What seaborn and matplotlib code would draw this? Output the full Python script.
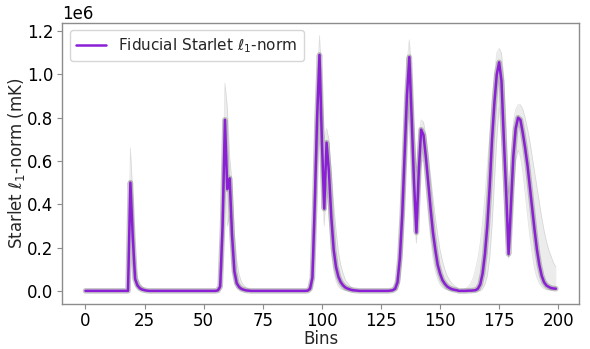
import numpy as np
import pandas as pd
import matplotlib
matplotlib.use("Agg")
import matplotlib.pyplot as plt
import seaborn as sns

# ---------------- data (values in units of 1e6 mK) ----------------
N_BINS = 200
SCALE = 1e6

# fiducial curve and realisation spread, per peak group: start bin + values
g1_start = 17
g1_fid = [0, 0.0, 0.5, 0.25, 0.055, 0.025, 0.012, 0.006, 0.003, 0.001, 0]
g1_up = [0, 0.02, 0.66, 0.45, 0.12, 0.06, 0.035, 0.02, 0.01, 0.005, 0.002]
g1_lo = [0, 0, 0.36, 0.12, 0.03, 0.012, 0.005, 0.002, 0.001, 0, 0]

g2_start = 55
g2_fid = [0, 0.002, 0.02, 0.3, 0.79, 0.47, 0.52, 0.26, 0.09, 0.035, 0.018,
          0.009, 0.005, 0.002, 0.001, 0, 0, 0]
g2_up = [0, 0.01, 0.06, 0.45, 0.96, 0.85, 0.62, 0.5, 0.27, 0.14, 0.075,
         0.042, 0.026, 0.015, 0.008, 0.004, 0.002, 0]
g2_lo = [0, 0, 0.005, 0.12, 0.55, 0.3, 0.35, 0.12, 0.04, 0.015, 0.007,
         0.003, 0.001, 0, 0, 0, 0, 0]

g3_start = 93
g3_fid = [0, 0.001, 0.01, 0.06, 0.4, 0.8, 1.09, 0.7, 0.38, 0.685, 0.55, 0.34,
          0.19, 0.11, 0.065, 0.04, 0.025, 0.015, 0.01, 0.006, 0.003, 0.002,
          0.001, 0]
g3_up = [0.001, 0.005, 0.03, 0.15, 0.55, 0.95, 1.18, 0.95, 0.7, 0.75, 0.7,
         0.55, 0.4, 0.28, 0.18, 0.12, 0.08, 0.05, 0.035, 0.022, 0.014, 0.008,
         0.004, 0.002]
g3_lo = [0, 0, 0, 0.02, 0.2, 0.6, 0.85, 0.5, 0.3, 0.5, 0.35, 0.18, 0.09,
         0.045, 0.02, 0.01, 0.005, 0.002, 0, 0, 0, 0, 0, 0]

g4_start = 128
g4_fid = [0, 0.001, 0.003, 0.01, 0.04, 0.15, 0.35, 0.63, 0.9, 1.08, 0.8, 0.5,
          0.27, 0.55, 0.745, 0.72, 0.62, 0.5, 0.38, 0.27, 0.19, 0.12, 0.08,
          0.05, 0.033, 0.02, 0.013, 0.008, 0.005, 0.003, 0.002, 0.001, 0, 0, 0]
g4_up = [0.002, 0.005, 0.012, 0.03, 0.08, 0.25, 0.5, 0.8, 1.05, 1.16, 1.0,
         0.75, 0.55, 0.72, 0.79, 0.78, 0.72, 0.63, 0.53, 0.43, 0.34, 0.26,
         0.19, 0.14, 0.1, 0.07, 0.05, 0.035, 0.025, 0.017, 0.011, 0.007,
         0.004, 0.002, 0.001]
g4_lo = [0, 0, 0, 0.002, 0.01, 0.05, 0.18, 0.42, 0.72, 0.9, 0.6, 0.35, 0.22,
         0.4, 0.6, 0.6, 0.48, 0.35, 0.24, 0.15, 0.09, 0.055, 0.03, 0.017,
         0.009, 0.005, 0.002, 0, 0, 0, 0, 0, 0, 0, 0]

g5_start = 158
g5_fid = [0, 0, 0, 0, 0.001, 0.001, 0.002, 0.003, 0.01, 0.03, 0.08, 0.17,
          0.3, 0.48, 0.7, 0.87, 1.0, 1.056, 0.97, 0.7, 0.45, 0.17, 0.4, 0.62,
          0.75, 0.8, 0.79, 0.73, 0.66, 0.58, 0.48, 0.38, 0.28, 0.19, 0.12,
          0.07, 0.04, 0.025, 0.018, 0.013, 0.011, 0.01]
g5_up = [0.002, 0.004, 0.007, 0.012, 0.02, 0.035, 0.06, 0.1, 0.15, 0.22,
         0.32, 0.44, 0.58, 0.72, 0.88, 1.0, 1.1, 1.12, 1.1, 0.98, 0.75, 0.45,
         0.6, 0.78, 0.84, 0.86, 0.86, 0.84, 0.8, 0.75, 0.69, 0.62, 0.55, 0.48,
         0.41, 0.34, 0.28, 0.23, 0.19, 0.16, 0.13, 0.11]
g5_lo = [0, 0, 0, 0, 0, 0, 0, 0, 0, 0, 0.01, 0.03, 0.07, 0.15, 0.3, 0.5, 0.7,
         0.85, 0.7, 0.45, 0.22, 0.15, 0.25, 0.45, 0.6, 0.65, 0.62, 0.55, 0.45,
         0.35, 0.25, 0.17, 0.1, 0.06, 0.035, 0.02, 0.01, 0.005, 0.005, 0.005,
         0.005, 0.005]

x_ticks = [0, 25, 50, 75, 100, 125, 150, 175, 200]

groups = [
    (g1_start, g1_fid, g1_up, g1_lo),
    (g2_start, g2_fid, g2_up, g2_lo),
    (g3_start, g3_fid, g3_up, g3_lo),
    (g4_start, g4_fid, g4_up, g4_lo),
    (g5_start, g5_fid, g5_up, g5_lo),
]

bins = np.arange(N_BINS)
fid = np.zeros(N_BINS)
upper = np.zeros(N_BINS)
lower = np.zeros(N_BINS)
for start, f, u, l in groups:
    n = min(len(f), N_BINS - start)
    fid[start:start + n] = f[:n]
    upper[start:start + n] = u[:n]
    lower[start:start + n] = l[:n]

df = pd.DataFrame({"Bins": bins, "fid": fid * SCALE,
                   "upper": upper * SCALE, "lower": lower * SCALE})

# ---------------- plot ----------------
sns.set_theme(style="ticks", context="notebook")
FS = 12
plt.rcParams.update({
    "font.family": ["DejaVu Sans"],
    "font.size": FS,
    "axes.edgecolor": "0.55",
    "axes.linewidth": 1.0,
    "xtick.color": "0.55",
    "ytick.color": "0.55",
    "xtick.labelcolor": "black",
    "ytick.labelcolor": "black",
    "xtick.major.size": 3.5,
    "ytick.major.size": 3.5,
    "xtick.major.width": 0.8,
    "ytick.major.width": 0.8,
    "xtick.major.pad": 2.5,
    "ytick.major.pad": 2.5,
    "axes.labelsize": FS,
    "axes.labelpad": 0.0,
    "xtick.labelsize": FS,
    "ytick.labelsize": FS,
    "legend.fontsize": 11,
})

fig, ax = plt.subplots(figsize=(5.9, 3.49), dpi=100)
fig.subplots_adjust(left=0.105, right=0.982, bottom=0.13, top=0.935)

# realisation spread
ax.fill_between(df["Bins"], df["lower"], df["upper"], color="0.45",
                alpha=0.13, linewidth=0)
sns.lineplot(data=df, x="Bins", y="upper", ax=ax, color="0.6", lw=0.5,
             alpha=0.3, legend=False)
sns.lineplot(data=df, x="Bins", y="lower", ax=ax, color="0.6", lw=0.5,
             alpha=0.3, legend=False)
sns.lineplot(data=df, x="Bins", y="fid", ax=ax, color="0.35", lw=4.0,
             alpha=0.35, legend=False)

# fiducial
sns.lineplot(data=df, x="Bins", y="fid", ax=ax, color="#8a1fd6", lw=1.8,
             label=r"Fiducial Starlet $\ell_1$-norm")

ax.set_xlabel("Bins")
ax.set_ylabel(r"Starlet $\ell_1$-norm (mK)")
ax.set_xticks(x_ticks)
ax.legend(loc="upper left", frameon=True)

fig.savefig("out.png", dpi=100)
